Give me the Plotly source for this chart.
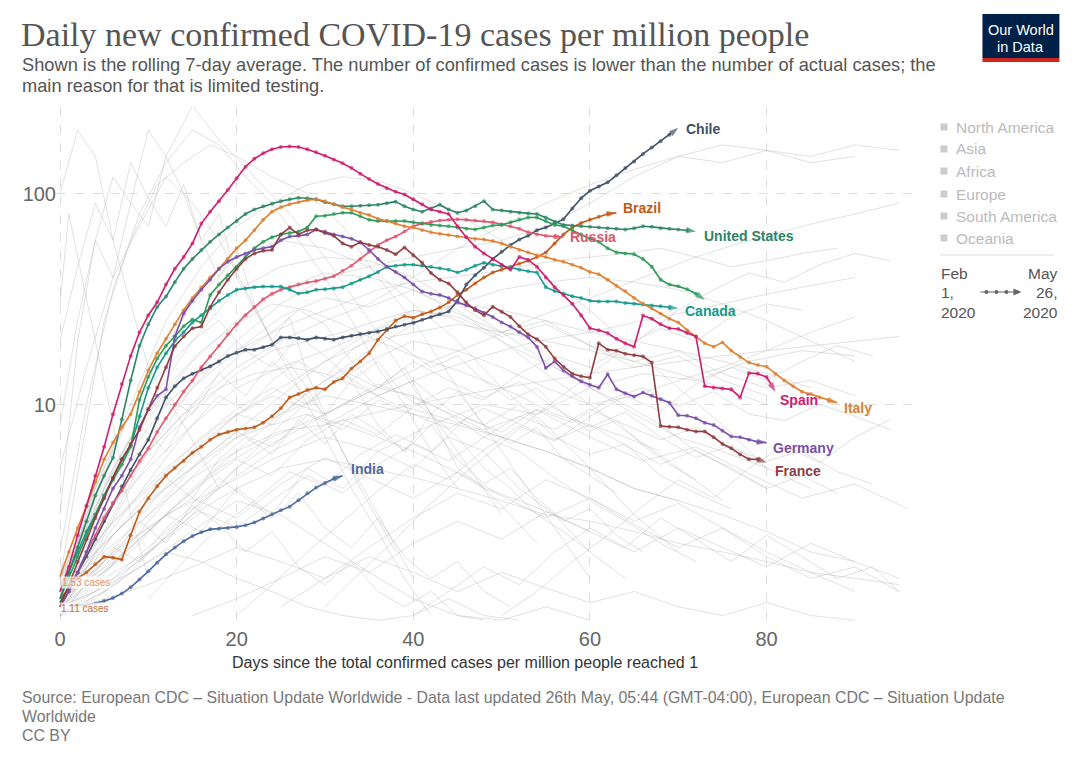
import math
import plotly.graph_objects as go

# ---------------- data ----------------
spain_start = 0
spain = [1.3,1.7,2.4,3.3,4.6,6.3,9.0,12.5,17,22,
         26.5,30.5,37,44,50,58,72,82,92,104,
         118,134,146,155,162,166,167,166,162,157,
         151,145,139,132,124,117,111,106,102,99,
         94,89,84,82,80,70,62,56,52,49,
         46,43.5,50,48.5,45,40,36,33,30,26.5,
         23,22.5,21.8,20.5,19.5,18.8,26.4,25.5,24,23,
         22.8,21.8,21,12.2,12,11.9,11.8,10.8,14.1,14,
         13.5,11.5]

italy_start = 0
italy = [1.53,2.0,2.6,3.3,4.3,5.5,6.6,7.8,9.0,11.5,
         14.5,17.5,20.5,24,28,32,36,40,44,49,
         55,60,67,75,82,86,89,91,93,94,
         92,89,86,84,81,79,76,74,72,70,
         69,67,65.5,64.5,63.5,62.5,62,61,60.5,59.5,
         58,56,54,52.5,51,50,48.5,47.5,46,44.5,
         42.5,41.4,39,36.5,34.5,32,30,28.5,27,25.5,
         24.5,22.5,21,19.5,18.8,19.7,18,16.8,15.8,15.4,
         15.1,14,13,12.2,11.5,11.2,10.8,10.5,10.2]

us_start = 0
united_states = [1.2,1.6,2.1,2.8,3.7,4.6,5.6,8.5,13,19,
                 24,29,32.5,38,44,49,54,59,64,69,
                 74,80,84,87,89.5,92,94,95.5,95,94,
                 91,89,87,87,87.5,88,88.5,90,91.5,87,
                 84,82,85,88.5,84,81,83,87,92,84,
                 83,82,81,80.5,80,77,73.5,71,70.5,70,
                 69.5,69,68.5,68,67.5,68.5,70,69.5,68.5,68,
                 67.5,67,66]

uk_start = 0
united_kingdom = [1.2,1.5,1.9,2.4,3.0,3.7,4.4,5.2,6.3,10.5,
                  13.5,16.5,19,21,23.5,25.3,24.5,33,37,41,
                  45,50,55,59,62,64,65,66,69,78,
                  78.5,80,81,81,78,75,74,74,74,74,
                  73,72,71,70.5,70,69,68,67.5,69,70.5,
                  71,73,75,77,77,74,71,70,67,64,
                  61,59,55,52.6,52,51.5,49,45,39,37,
                  36.3,35.2,33.5,31.4]

canada_start = 0
canada = [1.3,1.6,2.0,2.5,3.0,3.7,4.5,5.5,6.4,8.8,
          12,15,17.5,20,22,24.5,26.5,28.5,31,33,
          35,35.5,36,36.2,36.2,36.2,35,33.6,34,35,
          35.2,35.5,36,37.5,39,40.5,42.5,45,45.5,46,
          46,45.5,45,44.2,43.5,42.2,43.5,45.5,47,46,
          45.2,44.5,43.5,42.8,42.2,36,34.5,33.5,32.6,32,
          31,30.8,30.8,30.8,30.3,30,29.8,29.5,29.2,28.8,
          28.6]

france_start = 0
france = [1.1,1.4,1.8,2.3,2.9,3.6,4.5,5.5,6.5,7.6,
          9.5,12,15,18.9,21,23,23.4,29,34,39,
          44,49,52,53.5,54,64,69,64,67,67.5,
          65,63,58,56,58.7,57,56,54,51.5,55.5,
          51,47,42,39,37.5,34,30.4,28,26.5,29.1,
          27.5,26,23.5,21.5,20.4,18.8,16.5,15.1,14,13.6,
          13.4,19.5,18.2,18,17.4,17.1,16.9,15.8,7.9,7.85,
          7.8,7.6,7.45,7.45,7.0,6.5,6.2,5.8,5.5,5.5,
          5.3]

germany_start = 0
germany = [1.1,1.3,1.6,2.0,2.6,3.2,4.0,4.6,5.5,7.8,
           9.5,11,11.8,21,27,31,35,39,44,47.5,
           50,52,54,55,56,60,62.6,63,64,67.5,
           66,64,62.6,61,58.7,54,49,45,42.5,40,
           37,34.3,33.5,33,32,30.5,29.5,28.5,27.2,26,
           24.5,23.4,22,20.8,18.8,14.9,16.0,14.5,13.6,12.9,
           12.4,12.0,13.9,11.8,11.3,10.9,11.4,11.0,10.6,10.2,
           8.9,8.85,8.6,8.2,8.0,7.5,7.05,7.0,6.8,6.65,
           6.6]

russia_start = 0
russia = [1.1,1.3,1.6,2.0,2.4,2.9,3.4,3.9,4.6,5.4,
          6.2,7.4,8.6,10,11.5,13,15,16.9,19,21.5,
          24,26.5,29,31.5,33.5,35,36,37,37.9,38.5,
          39.5,40.5,43,45.5,49,53,57,60,62.6,66,
          70,72,73.5,74.5,75,75.5,75,74.5,74,73,
          71.5,70,68,65.5,64,63,62.6,62]

brazil_start = 0
brazil = [1.2,1.35,1.5,1.6,1.75,1.9,1.88,1.84,2.4,3.1,
          3.6,4.1,4.6,5.0,5.4,5.9,6.3,6.8,7.2,7.4,
          7.6,7.7,7.8,8.2,8.8,9.6,10.8,11.2,11.7,12.0,
          11.8,12.8,13.3,14.8,16.0,17.5,20.3,22.5,25.0,26.2,
          25.8,26.8,27.6,28.8,30.5,33,35,37.5,40,42.2,
          43.5,45,46.5,48,50,52.5,58,64,69,72.5,
          75,77.5,80,81]

chile_start = 0
chile = [1.15,1.35,1.6,1.9,2.3,2.8,3.4,4.1,4.9,5.8,
         6.8,8.6,10.8,12.2,13.3,14.0,14.6,15.2,16.0,17.0,
         17.6,18.2,18.2,18.7,19.2,20.8,20.8,20.6,20.3,20.8,
         20.5,20.3,20.8,21.2,21.6,21.9,22.2,22.8,23.4,23.9,
         24.4,25.2,26,26.8,27.6,31,37,41,44.5,49,
         53,57,60.5,63,67,69,72,75.5,85,95,
         103,108,113,122,132,142,154,165,177,190,
         205]

india_start = 1
india = [1.11,1.12,1.12,1.14,1.17,1.21,1.27,1.36,1.48,1.62,
         1.78,1.95,2.1,2.25,2.38,2.48,2.56,2.58,2.6,2.63,
         2.68,2.76,2.88,3.02,3.15,3.28,3.52,3.8,4.04,4.25,
         4.45,4.6]

# background (all other countries), rough eye estimates
gray_lines = [
    ([0,2,4,6,8,10,12,15,18,22,26,30,35,40,45,50], [3,20,60,120,90,200,150,260,180,120,80,50,25,12,6,3]),
    ([0,3,5,8,11,14,17,20,24,28,32,36,40,45,50,55,60], [1.5,8,25,60,110,140,170,150,120,100,70,40,25,12,6,3,1.5]),
    ([0,4,8,12,16,20,24,28,32,36,40,45,50,55,60,65,70,75,80], [1.2,4,10,25,45,70,90,110,120,115,100,80,60,40,28,18,12,8,5]),
    ([0,5,10,15,20,25,30,35,40,45,50,55,60,65,70,75,80,85,90], [1.1,2.5,6,12,20,30,40,45,50,55,60,70,90,120,150,170,160,140,150]),
    ([0,5,10,15,20,25,30,35,40,45,50,55,60,65,70,75,80,85], [1.3,3,5,8,12,15,18,22,26,30,28,25,22,20,18,16,14,12]),
    ([0,4,8,12,16,20,24,28,32,36,40,44,48,52,56,60,64,68,72,76,80], [1.0,2,4,7,10,14,18,20,22,25,28,26,22,18,15,12,10,8,6,5,4]),
    ([0,5,10,15,20,25,30,35,40,45,50,55,60,65,70], [1.1,1.8,3,5,7,9,11,10,9,8,7,6,5,4,3.5]),
    ([0,3,6,9,12,15,18,21,24,27,30,33,36,39,42,45,48,51,54,57,60], [1.2,3,6,11,15,20,25,18,22,28,24,16,12,15,9,7,5,4,3,2.5,2]),
    ([0,6,12,18,24,30,36,42,48,54,60,66,72,78,84,90], [1.0,1.5,2.5,4,6,8,11,14,17,20,22,25,28,32,36,40]),
    ([0,5,10,15,20,25,30,35,40,45,50,55,60,65,70,75], [1.5,4,9,16,25,35,42,40,35,28,20,14,10,7,5,3.5]),
    ([0,4,8,12,16,20,24,28,32,36,40,44,48,52,56,60,64], [1.1,1.5,2,3,2.5,4,3,5,4,6,5,7,6,4,3,2,1.5]),
    ([0,5,10,15,20,25,30,35,40,45,50,55,60], [1.0,1.3,1.8,2.5,3.5,3,2.2,1.6,1.2,1.0,0.95,1.1,0.95]),
    ([0,3,6,10,14,18,22,26,30,34,38,42,46,50,55,60,65,70,75,80,85,90], [1.2,2,3.5,6,9,12,14,15,14,12,10,9,8,7,6,5,4,3.5,3,2.5,2,1.8]),
    ([0,4,8,12,16,20,24,28,32,36,40,44,48,52,56,60,64,68,72,76,80,84,88], [1.4,3,6,10,14,18,22,26,30,35,38,40,42,45,48,50,52,55,50,45,48,52,55]),
    ([0,5,10,15,20,25,30,35,40,45,50,55,60,65,70], [1.6,5,14,30,50,60,55,45,30,20,12,8,5,3,2]),
    ([0,2,4,6,8,10,12,14,16,18,20,24,28,32,36,40], [8,25,60,40,90,70,150,100,60,80,40,20,12,6,3,1.5]),
    ([0,6,12,18,24,30,36,42,48,54,60,66,72,78,84,90,95], [1.1,2,3,5,7,9,12,16,20,26,32,40,50,60,70,80,90]),
    ([0,4,8,12,16,20,24,28,32,36,40,44,48,52,56,60], [1.0,1.4,2.2,3.5,5,7,8,9,8,7,6,5,4,3.5,3,2.5]),
    ([0,5,10,15,20,25,30,35,40,45,50,55,60,65,70,75,80,85,90,95], [1.3,2,3,4.5,6,7.5,8,9,10,11,12,13,14,15,16,17,18,19,20,21]),
    ([0,3,6,9,12,15,18,21,24,27,30,33,36,39,42,45], [2,10,35,80,140,200,170,120,90,60,40,25,15,10,6,4]),
    ([0,5,10,15,20,25,30,35,40,45,50,55,60,65,70,75,80,85,90], [1.2,1.6,2.5,4,6,9,13,18,24,30,35,38,40,38,35,30,25,20,16]),
    ([0,4,8,12,16,20,24,28,32,36,40,44,48,52], [1.1,1.3,1.6,2,1.8,1.5,1.3,1.1,1.0,0.95,1.0,1.2,1.0,0.95]),
    ([0,5,10,15,20,25,30,35,40,45,50,55,60,65,70,75,80,85,90,95], [1.5,3,6,10,15,20,25,30,40,55,70,90,110,130,150,140,160,150,170,160]),
    ([0,5,10,15,20,25,30,35,40,45,50,55,60,65,70,75,80], [1.3,2.5,4,6,9,12,16,20,22,24,22,20,18,16,14,12,10]),
    ([0,1,2,4,6,8,10], [30,80,50,20,8,3,1.5]),
    ([0,2,4,6,8,10,14,18], [100,200,150,60,30,15,8,4]),
    ([0,3,6,9,12,15,18,21,24,27,30,33,36,39,42,45,48,51,54], [1.2,2.5,5,8,6,10,14,11,16,12,9,13,8,6,9,5,4,3,2.2]),
    ([0,4,8,12,16,20,24,28,32,36,40,44,48,52,56,60,64,68,72], [1.0,1.2,1.6,2.4,3.5,5,6.5,8,10,12,11,9,7,6,4.5,3.5,2.8,2.2,1.8]),
    ([0,5,10,15,20,25,30,35,40,45,50,55,60,65,70,75,80,85], [1.4,4,10,20,35,45,50,48,40,30,22,16,12,9,7,6,5,4]),
    ([0,3,6,9,12,15,18,21,24,27,30,33,36,39,42], [5,15,40,70,120,90,60,35,20,12,7,4,2.5,1.5,1.0]),
    ([0,6,12,18,24,30,36,42,48,54,60,66,72,78,84,90], [1.2,1.8,3,4,5.5,7,6,8,10,9,12,14,13,16,18,17]),
    ([0,5,10,15,20,25,30,35,40,45,50,55,60,65,70,75,80,85,90,95], [1.1,1.5,2,3,4,5,5.5,5,4.5,4,3.5,3,2.8,2.5,2.2,2,1.8,1.6,1.5,1.4]),
    ([0,4,8,12,16,20,24,28,32,36,40,44,48,52,56,60,64,68], [1.5,3.5,7,12,18,24,30,28,24,20,17,15,13,11,9,8,7,6]),
    ([0,5,10,15,20,25,30,35,40,45,50,55,60,65,70,75,80,85,90], [1.0,1.3,2,3,5,8,12,16,20,18,15,12,10,11,13,15,18,22,26]),
    ([0,3,6,9,12,15,18,21,24,27,30,33,36,39,42,45,48,51,54,57,60,63,66], [1.1,1.6,2.4,3.2,4.5,3.6,5.5,7,5.8,8.5,6.5,9,7.5,6,8,5.5,4.2,5,3.6,2.8,3.2,2.4,2.0]),
    ([0,4,8,12,16,20,24,28,32,36,40,44,48,52,56,60,64,68,72,76], [1.2,1.9,3,4.8,7,9.5,12,10,14,11,13,9.5,8,10,7,5.8,6.5,4.6,3.8,3.2]),
    ([0,3,6,9,12,15,18,21,24,27,30,33,36,39,42,45,48,51], [1.0,1.4,1.9,2.8,2.2,3.4,4.5,3.6,2.9,3.8,2.6,2.1,2.9,1.9,1.5,1.8,1.3,1.1]),
    ([0,5,10,15,20,25,30,35,40,45,50,55,60,65,70,75,80,85,90], [1.3,2.2,3.5,5,7.5,11,16,22,28,26,21,24,19,16,18,14,12,13,11]),
    ([0,4,8,12,16,20,24,28,32,36,40,44,48,52,56,60,64,68,72,76,80,84], [1.1,1.5,2.1,3,4.2,5.5,4.6,6.8,8.5,7.2,9.8,12,10.5,14,17,15,19,23,20,26,30,28]),
    ([10,14,18,22,26,30,34,38,42,46,50,54,58,62,66,70,74,78,82,86,90,94], [1.2,1.8,2.6,3.5,4.8,4.1,5.8,7.2,6,8.6,7.4,9.5,8.2,10.5,12,9.8,11.5,9,8.4,10,8.8,7.6]),
    ([0,3,6,9,12,15,18,21,24,27,30,33,36,39,42,45,48,51,54,57,60,63], [1.4,2.6,4.5,7.5,11,9,14,18,15,21,17,13,16,11,9,11.5,8,6.5,7.8,5.5,4.6,3.8]),
    ([0,4,8,12,16,20,24,28,32,36,40,44,48,52,56,60,64,68,72,76,80,84,88,92], [1.1,1.3,1.7,2.3,3.1,2.6,3.5,4.6,3.8,5.2,6.5,5.4,7,8.8,7.6,9.5,8,6.8,7.8,6.2,5.4,6,4.8,4.2]),
    ([0,3,6,9,12,15,18,21,24,27,30,33,36,39,42,45,48], [1.2,1.5,2.1,1.8,2.6,3.3,2.7,2,2.5,1.7,1.4,1.8,1.3,1.1,1.3,1.0,0.95]),
    ([20,24,28,32,36,40,44,48,52,56,60,64,68,72,76,80,84,88,92], [1.0,1.4,2,2.8,3.9,5.2,4.4,6.1,7.9,6.7,8.8,11,9.3,12.5,15,13,16,19,17]),
    ([0,5,10,15,20,25,30,35,40,45,50,55,60,65,70,75,80], [1.5,3.5,7,12,18,26,32,29,35,27,22,25,19,15,17,13,11]),
    ([0,4,8,12,16,20,24,28,32,36,40,44,48,52,56,60,64,68,72,76,80,84,88], [1.3,2,2.9,4,5.5,7.4,6.3,8.9,7.6,10.5,9,7.7,9.6,8.1,6.8,8,6.4,5.2,6.1,4.9,4,4.6,3.8]),
    ([0,3,6,9,12,15,18,21,24,27,30,33,36,39,42,45,48,51,54,57,60,63,66,69,72], [1.1,1.7,2.6,3.8,5.6,8,11,9.4,13,16,13.5,18,22,18.5,15,17,13,10.5,12,9,7.5,8.4,6.4,5.2,4.4]),
    ([30,34,38,42,46,50,54,58,62,66,70,74,78,82,86,90,94], [1.1,1.6,2.3,3.4,4.8,6.6,9,12,16,21,28,35,42,38,46,52,48]),
    ([0,2,4,6,8,10,12,14,16,18,20,22,24,26,28,30,34,38], [20,45,90,60,140,95,70,110,60,40,55,30,20,26,14,9,4,2]),
    ([0,5,10,15,20,25,30,35,40,45,50,55,60,65,70,75,80,85,90,95], [1.2,1.8,2.6,3.6,2.9,4.2,5.6,4.5,3.6,4.8,3.7,2.9,3.6,2.7,2.1,2.6,1.9,1.5,1.7,1.3]),
    ([0,4,8,12,16,20,24,28,32,36,40,44,48,52,56,60,64,68,72,76,80], [1.0,1.6,2.6,4.1,6.2,9,8,11.5,14.5,12,16,13,10.8,12.8,9.6,7.8,9.2,7,5.6,6.4,5]),
    ([40,44,48,52,56,60,64,68,72,76,80,84,88,92,95], [1.0,1.3,1.7,1.4,2.0,2.6,2.1,2.9,2.3,1.8,2.4,1.9,1.5,1.7,1.3]),
    ([15,20,25,30,35,40,45,50,55,60,65,70,75,80,85,90,95], [1.0,1.2,1.5,1.9,1.6,2.2,2.8,2.3,3.1,2.5,2.0,2.6,2.1,1.7,2.2,1.8,1.5]),
    ([25,30,35,40,45,50,55,60,65,70,75,80,85,90], [1.1,1.5,2.1,2.9,3.8,3.2,4.4,3.6,2.8,3.4,2.6,2.0,1.6,1.3]),
    ([0,5,10,15,20,25,30,35,40,45,50,55,60,65,70,75,80,85,90], [1.0,1.2,1.4,1.7,2.1,1.8,1.5,1.9,1.6,1.3,1.6,1.35,1.15,1.3,1.1,1.0,1.15,1.0,0.95]),
    ([50,54,58,62,66,70,74,78,82,86,90,94], [1.0,1.3,1.8,2.4,3.3,4.4,3.6,5,6.4,5.3,7,8.5]),
    ([0,6,12,18,24,30,36,42,48,54,60,66,72,78,84,90,96], [1.3,2.8,5,8,11,9,12.5,10,7.6,9.4,7,5.4,6.3,4.7,3.6,4.2,3.2]),
]

# ---------------- styles ----------------
W, H = 1080, 762
L, R, T, B = 57, 164.5, 107, 137
PW = W - L - R
PH = H - T - B
SANS = "Liberation Sans, Arial, sans-serif"
SERIF = "Liberation Serif, Times New Roman, serif"


def px(x):
    return (x - L) / PW


def py(y):
    return (H - B - y) / PH


fig = go.Figure()

for days, vals in gray_lines:
    fig.add_trace(go.Scatter(x=days, y=vals, mode="lines",
                             line=dict(color="rgba(175,175,175,0.42)", width=0.9),
                             hoverinfo="skip", showlegend=False))

# name, values, first day, colour, label x-shift, label y-shift (px, up positive)
series = [
    ("India", india, india_start, "#4c6a9c", 6, 7),
    ("Brazil", brazil, brazil_start, "#c05917", 5, 5),
    ("Chile", chile, chile_start, "#3e5068", 6, -1),
    ("Russia", russia, russia_start, "#e0566e", 5, 0),
    ("Canada", canada, canada_start, "#12998c", 5, -3),
    ("", united_kingdom, uk_start, "#2a9a55", 0, 0),
    ("United States", united_states, us_start, "#2c8465", 6, -4),
    ("Italy", italy, italy_start, "#dd7f30", 5, -5),
    ("Germany", germany, germany_start, "#7a4fa8", 4, -5),
    ("France", france, france_start, "#8f3b3f", 6, -8),
    ("Spain", spain, spain_start, "#cf1b6d", 3, -8),
]

annotations = []
for name, vals, start, color, xs, ys in series:
    days = list(range(start, start + len(vals)))
    n = len(vals)
    fig.add_trace(go.Scatter(
        x=days, y=vals, mode="lines+markers",
        line=dict(color=color, width=1.6),
        marker=dict(color=color, size=[4] * (n - 1) + [10],
                    symbol=["circle"] * (n - 1) + ["arrow"],
                    angleref="previous", line=dict(width=0)),
        hoverinfo="skip", showlegend=False))
    if name:
        annotations.append(dict(
            x=days[-1], y=math.log10(vals[-1]), xref="x", yref="y",
            text="<b>%s</b>" % name, showarrow=False, xanchor="left",
            yanchor="middle", xshift=xs, yshift=ys,
            font=dict(family=SANS, size=14, color=color)))

# start value labels
annotations.append(dict(x=0, y=math.log10(1.53), xref="x", yref="y", text="1.53 cases",
                        showarrow=False, xanchor="left", yanchor="middle", xshift=1, yshift=-6,
                        font=dict(family=SANS, size=10, color="#e0955e"),
                        bgcolor="rgba(255,255,255,0.75)", borderpad=0))
annotations.append(dict(x=0, y=math.log10(1.11), xref="x", yref="y", text="1.11 cases",
                        showarrow=False, xanchor="left", yanchor="middle", xshift=0, yshift=-3,
                        font=dict(family=SANS, size=10, color="#c8693a"),
                        bgcolor="rgba(255,255,255,0.75)", borderpad=0))

subtitle_lines = [
    "Shown is the rolling 7-day average. The number of confirmed cases is lower than the number of actual cases; the",
    "main reason for that is limited testing.",
]
source_lines = [
    "Source: European CDC – Situation Update Worldwide - Data last updated 26th May, 05:44 (GMT-04:00), European CDC – Situation Update",
    "Worldwide",
    "CC BY",
]

annotations.append(dict(x=px(19), y=py(14), xref="paper", yref="paper", xanchor="left", yanchor="top",
                        text="Daily new confirmed COVID-19 cases per million people", showarrow=False,
                        font=dict(family=SERIF, size=34, color="#555555")))
for i, t in enumerate(subtitle_lines):
    annotations.append(dict(x=px(20), y=py(65 + 20 * i), xref="paper", yref="paper",
                            xanchor="left", yanchor="middle", text=t, showarrow=False,
                            font=dict(family=SANS, size=18.25, color="#555555")))
for i, t in enumerate(source_lines):
    annotations.append(dict(x=px(20), y=py(697 + 19 * i), xref="paper", yref="paper",
                            xanchor="left", yanchor="middle", text=t, showarrow=False,
                            font=dict(family=SANS, size=15.9, color="#777777")))
annotations.append(dict(x=px(465), y=py(662), xref="paper", yref="paper", xanchor="center", yanchor="middle",
                        text="Days since the total confirmed cases per million people reached 1", showarrow=False,
                        font=dict(family=SANS, size=16, color="#333333")))
annotations.append(dict(x=px(1021.5), y=py(30), xref="paper", yref="paper", xanchor="center", yanchor="middle",
                        text="Our World", showarrow=False, font=dict(family=SANS, size=14.5, color="#ffffff")))
annotations.append(dict(x=px(1021.5), y=py(47), xref="paper", yref="paper", xanchor="center", yanchor="middle",
                        text="in Data", showarrow=False, font=dict(family=SANS, size=14.5, color="#ffffff")))

continents = ["North America", "Asia", "Africa", "Europe", "South America", "Oceania"]
cont_y = [127, 149, 171, 194, 216, 238]
shapes = []
for c, yy in zip(continents, cont_y):
    annotations.append(dict(x=px(955), y=py(yy), xref="paper", yref="paper",
                            xanchor="left", yanchor="middle", text=c, showarrow=False,
                            font=dict(family=SANS, size=15.5, color="#bbbbbb")))
    shapes.append(dict(type="rect", xref="paper", yref="paper",
                       x0=px(941), x1=px(948), y0=py(yy + 3.5), y1=py(yy - 3.5),
                       fillcolor="#cccccc", line=dict(width=0)))

for i, (a, b) in enumerate([("Feb", "May"), ("1,", "26,"), ("2020", "2020")]):
    yy = 273 + 19.5 * i
    annotations.append(dict(x=px(940), y=py(yy), xref="paper", yref="paper", xanchor="left",
                            yanchor="middle", text=a, showarrow=False,
                            font=dict(family=SANS, size=15.5, color="#555555")))
    annotations.append(dict(x=px(1061), y=py(yy), xref="paper", yref="paper", xanchor="right",
                            yanchor="middle", text=b, showarrow=False,
                            font=dict(family=SANS, size=15.5, color="#555555")))

shapes += [
    dict(type="line", xref="paper", yref="paper", x0=px(940), x1=px(1055), y0=py(255), y1=py(255),
         line=dict(color="#dddddd", width=1)),
    dict(type="line", xref="paper", yref="paper", x0=px(981), x1=px(1016), y0=py(292), y1=py(292),
         line=dict(color="#666666", width=1.2)),
    dict(type="path", xref="paper", yref="paper",
         path="M %f %f L %f %f L %f %f Z" % (px(1014), py(288.5), px(1022), py(292), px(1014), py(295.5)),
         fillcolor="#666666", line=dict(width=0)),
    dict(type="rect", xref="paper", yref="paper", x0=px(983), x1=px(1060), y0=py(58), y1=py(14),
         fillcolor="#002147", line=dict(width=0)),
    dict(type="rect", xref="paper", yref="paper", x0=px(983), x1=px(1060), y0=py(62), y1=py(58),
         fillcolor="#ce261e", line=dict(width=0)),
]
for cx in (987, 997, 1007):
    shapes.append(dict(type="circle", xref="paper", yref="paper",
                       x0=px(cx - 2), x1=px(cx + 2), y0=py(294), y1=py(290),
                       fillcolor="#666666", line=dict(width=0)))

fig.update_layout(
    width=W, height=H,
    margin=dict(l=L, r=R, t=T, b=B, pad=0),
    paper_bgcolor="white", plot_bgcolor="white",
    showlegend=False, hovermode=False,
    font=dict(family=SANS),
    xaxis=dict(range=[-0.34, 96.8], tickvals=[0, 20, 40, 60, 80],
               showgrid=True, gridcolor="#dddddd", griddash="dash", gridwidth=1,
               zeroline=False, showline=False, ticks="",
               tickfont=dict(family=SANS, size=20, color="#666666")),
    yaxis=dict(type="log", range=[-0.045, 2.41], tickvals=[10, 100], ticktext=["10", "100"],
               showgrid=True, gridcolor="#dddddd", griddash="dash", gridwidth=1,
               zeroline=False, showline=False, ticks="",
               tickfont=dict(family=SANS, size=20, color="#666666")),
    annotations=annotations, shapes=shapes,
)

fig.write_html("out.html", config={"displayModeBar": False})
